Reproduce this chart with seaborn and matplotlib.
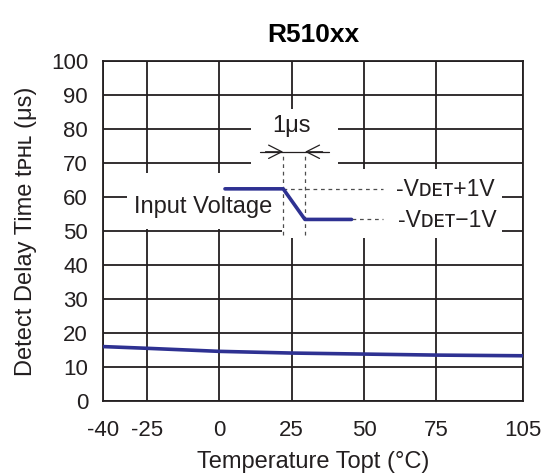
import matplotlib
matplotlib.use('Agg')
import matplotlib.pyplot as plt
import seaborn as sns
import pandas as pd

# Detect delay time vs temperature
temp = [-40, -25, 0, 25, 50, 75, 105]
delay = [16.0, 15.5, 14.6, 14.1, 13.8, 13.5, 13.3]

# input voltage step sketched inside the chart
wave_x = [2.0, 22.1, 29.6, 45.7]
wave_y = [62.4, 62.4, 53.4, 53.4]

x_ticks = [-40, -25, 0, 25, 50, 75, 105]
y_ticks = list(range(0, 101, 10))

sns.set_theme(style='white')
plt.rcParams['font.family'] = ['Liberation Sans', 'DejaVu Sans']

blue = '#2E3192'
grid_c = '#231F20'
dash_c = '#4D4D4D'
txt_c = '#231F20'

fig = plt.figure(figsize=(5.47, 4.75), dpi=100)
ax = fig.add_axes([0.1889, 0.1558, 0.7678, 0.7158])

df = pd.DataFrame({'temp': temp, 'delay': delay})
sns.lineplot(data=df, x='temp', y='delay', color=blue, lw=2.6, ax=ax, zorder=4)

wave = pd.DataFrame({'x': wave_x, 'y': wave_y})
sns.lineplot(data=wave, x='x', y='y', sort=False, color=blue, lw=2.6, ax=ax, zorder=4)

ax.set_xlim(-40, 105)
ax.set_ylim(0, 100)
ax.set_xticks(x_ticks)
ax.set_yticks(y_ticks)
ax.set_xticklabels([str(t) for t in x_ticks])
ax.grid(True, color=grid_c, lw=1.3)
ax.set_axisbelow(True)
for s in ax.spines.values():
    s.set_color(grid_c)
    s.set_linewidth(1.3)
ax.tick_params(length=0, labelsize=16, colors=txt_c)
ax.tick_params(axis='y', pad=11)
ax.tick_params(axis='x', pad=14)

# white patches hiding the grid behind the sketch
for x0, x1, y0, y1 in [(-31.9, 21.6, 50.7, 67.0), (21.6, 97.5, 48.0, 68.2), (10.9, 41.1, 68.0, 86.0)]:
    ax.fill_between([x0, x1], y0, y1, color='white', lw=0, zorder=2)

# dashed guides
ax.plot([22.1, 56.6], [62.4, 62.4], ls=(0, (3, 3)), color=dash_c, lw=0.9, zorder=3)
ax.plot([45.7, 56.6], [53.4, 53.4], ls=(0, (3, 3)), color=dash_c, lw=0.9, zorder=3)
for xv in [22.1, 29.6]:
    ax.plot([xv, xv], [48.8, 73.3], ls=(0, (3, 3)), color=dash_c, lw=0.9, zorder=3)

# 1 us marker
ax.plot([14.1, 37.9], [73.3, 73.3], color=txt_c, lw=0.9, zorder=3)
for tip, tail in [(22.1, 16.0), (29.6, 35.7)]:
    ax.annotate('', xy=(tip, 73.3), xytext=(tail, 73.3),
                arrowprops=dict(arrowstyle='->,head_length=0.95,head_width=0.48',
                                color=txt_c, lw=0.9, shrinkA=0, shrinkB=0,
                                mutation_scale=10), zorder=3)
ax.text(25.0, 80.9, '1μs', ha='center', va='center', fontsize=17, color=txt_c, zorder=5)

ax.text(-5.6, 57.1, 'Input Voltage', ha='center', va='center', fontsize=17, color=txt_c, zorder=5)
ax.text(61.2, 62.3, '-Vᴅᴇᴛ+1V', ha='left', va='center', fontsize=16.5, color=txt_c, zorder=5)
ax.text(61.8, 53.2, '-Vᴅᴇᴛ−1V', ha='left', va='center', fontsize=16.5, color=txt_c, zorder=5)

ax.set_title('R510xx', fontsize=19, fontweight='bold', pad=14, color='black')
ax.set_xlabel('Temperature Topt (°C)', fontsize=17, labelpad=7, color=txt_c)
ax.set_ylabel('Detect Delay Time tᴘʜʟ (μs)', fontsize=17, labelpad=10, color=txt_c)

fig.savefig('out.png', dpi=100)
